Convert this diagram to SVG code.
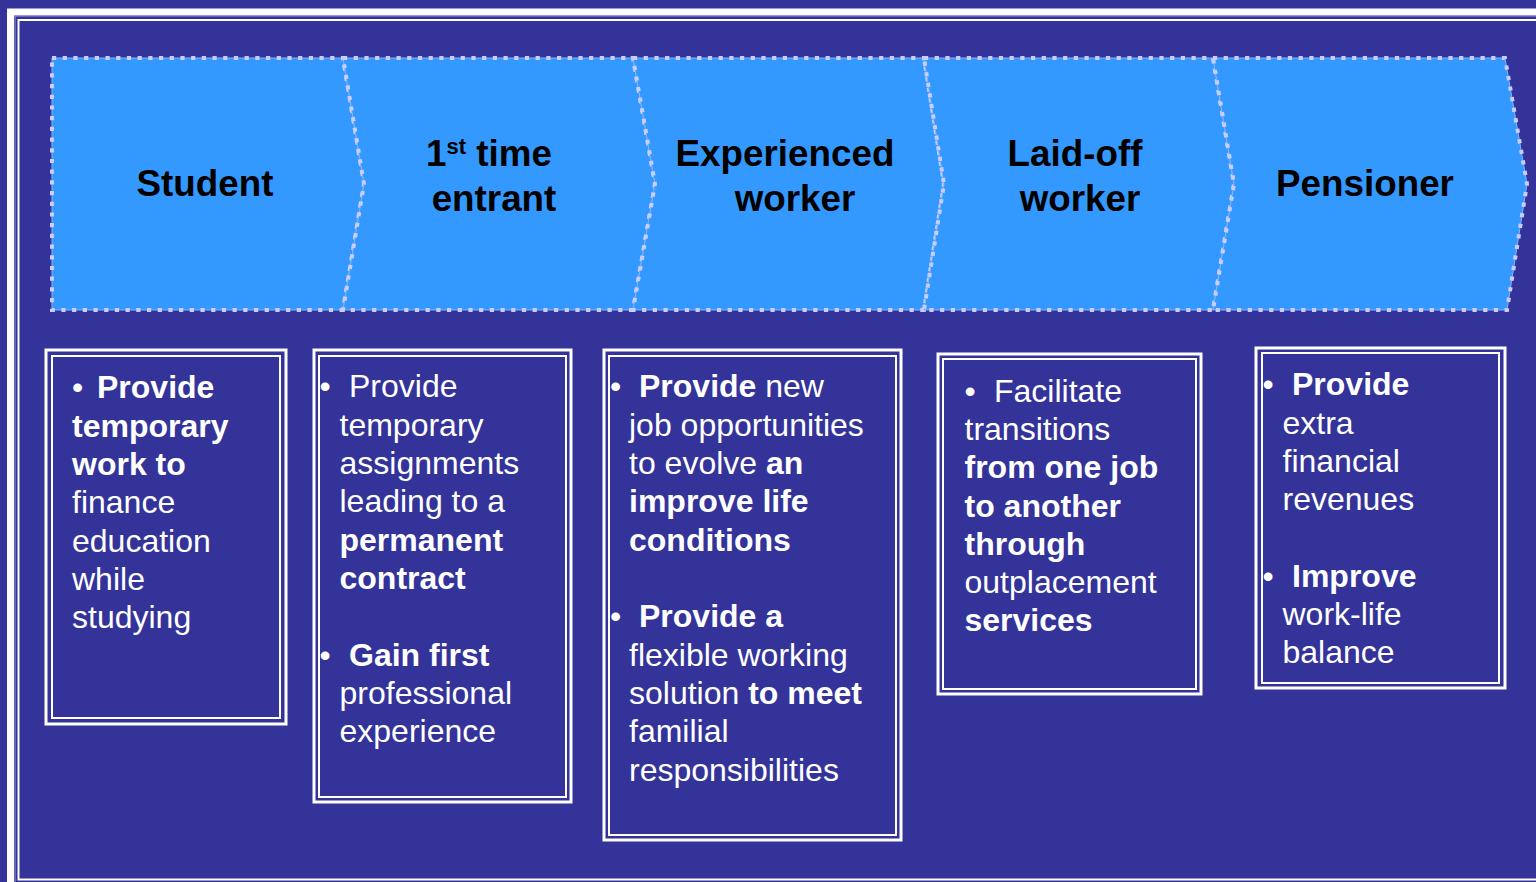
<svg xmlns="http://www.w3.org/2000/svg" width="1536" height="882" viewBox="0 0 1536 882">
<style>
.bg{fill:#343399}
.seg{fill:#3399ff;stroke:#7fb6ff;stroke-width:1}
.dots{fill:none;stroke:#ccccff;stroke-width:4;stroke-dasharray:4.2 6.5;stroke-linejoin:miter}
.ob{fill:none;stroke:#ffffff;stroke-width:3}
.ib{fill:none;stroke:#ffffff;stroke-width:2}
.h{font-family:"Liberation Sans",Arial,sans-serif;font-weight:bold;font-size:36.8px;fill:#000000;text-anchor:middle}
.t{font-family:"Liberation Sans",Arial,sans-serif;font-size:32px;fill:#ffffff}
.b{font-weight:bold}
</style>
<rect class="bg" x="0" y="0" width="1536" height="882"/>
<g id="frame">
<rect x="10.5" y="12" width="1560" height="900" fill="none" stroke="#ffffff" stroke-width="7"/>
<rect x="15" y="16" width="1560" height="900" fill="none" stroke="#9a99dd" stroke-width="1"/>
<rect x="18.5" y="20" width="1560" height="859.5" fill="none" stroke="#ffffff" stroke-width="2"/>
</g>
<g id="band">
<g id="stage-student">
<polygon class="seg" points="52,58 343,58 364,184 343,310 52,310"/>
<polygon class="dots" points="52,58 343,58 364,184 343,310 52,310"/>
<text class="h" x="205" y="196">Student</text>
</g>
<g id="stage-first">
<polygon class="seg" points="343,58 633,58 655,184 633,310 343,310 364,184"/>
<polygon class="dots" points="343,58 633,58 655,184 633,310 343,310 364,184"/>
<text class="h" x="426" y="166" style="text-anchor:start">1<tspan font-size="22" dy="-12">st</tspan><tspan dy="12"> time</tspan></text>
<text class="h" x="494" y="211">entrant</text>
</g>
<g id="stage-experienced">
<polygon class="seg" points="633,58 924,58 944,184 924,310 633,310 655,184"/>
<polygon class="dots" points="633,58 924,58 944,184 924,310 633,310 655,184"/>
<text class="h" x="785" y="166">Experienced</text>
<text class="h" x="795" y="211">worker</text>
</g>
<g id="stage-laidoff">
<polygon class="seg" points="924,58 1213,58 1234,184 1213,310 924,310 944,184"/>
<polygon class="dots" points="924,58 1213,58 1234,184 1213,310 924,310 944,184"/>
<text class="h" x="1075" y="166">Laid-off</text>
<text class="h" x="1080" y="211">worker</text>
</g>
<g id="stage-pensioner">
<polygon class="seg" points="1213,58 1505,58 1527,184 1507,310 1213,310 1234,184"/>
<polygon class="dots" points="1213,58 1505,58 1527,184 1507,310 1213,310 1234,184"/>
<text class="h" x="1365" y="196">Pensioner</text>
</g>
</g>
<g id="box-student">
<rect class="ob" x="46" y="350" width="240" height="374"/>
<rect class="ib" x="52" y="356" width="228" height="362"/>
<text class="t" x="72" y="398">•<tspan class="b" x="97">Provide</tspan></text>
<text class="t b" x="72" y="437">temporary</text>
<text class="t b" x="72" y="475">work to</text>
<text class="t" x="72" y="513">finance</text>
<text class="t" x="72" y="552">education</text>
<text class="t" x="72" y="590">while</text>
<text class="t" x="72" y="628">studying</text>
</g>
<g id="box-first">
<rect class="ob" x="314" y="350" width="257" height="452"/>
<rect class="ib" x="319" y="356" width="247" height="441"/>
<text class="t" x="319.5" y="397">•<tspan x="349">Provide</tspan></text>
<text class="t" x="339.5" y="436">temporary</text>
<text class="t" x="339.5" y="474">assignments</text>
<text class="t" x="339.5" y="512">leading to a</text>
<text class="t b" x="339.5" y="551">permanent</text>
<text class="t b" x="339.5" y="589">contract</text>
<text class="t" x="319.5" y="666">•<tspan class="b" x="349">Gain first</tspan></text>
<text class="t" x="339.5" y="704">professional</text>
<text class="t" x="339.5" y="742">experience</text>
</g>
<g id="box-experienced">
<rect class="ob" x="604" y="350" width="297" height="490"/>
<rect class="ib" x="609" y="356" width="287" height="479"/>
<text class="t" x="610" y="397">•<tspan class="b" x="639">Provide</tspan> new</text>
<text class="t" x="629" y="436">job opportunities</text>
<text class="t" x="629" y="474">to evolve <tspan class="b">an</tspan></text>
<text class="t b" x="629" y="512">improve life</text>
<text class="t b" x="629" y="551">conditions</text>
<text class="t" x="610" y="627">•<tspan class="b" x="639">Provide a</tspan></text>
<text class="t" x="629" y="666">flexible working</text>
<text class="t" x="629" y="704">solution <tspan class="b">to meet</tspan></text>
<text class="t" x="629" y="742">familial</text>
<text class="t" x="629" y="781">responsibilities</text>
</g>
<g id="box-laidoff">
<rect class="ob" x="938" y="354" width="263" height="340"/>
<rect class="ib" x="943" y="359" width="253" height="330"/>
<text class="t" x="964.5" y="402">•<tspan x="994">Facilitate</tspan></text>
<text class="t" x="964.5" y="440">transitions</text>
<text class="t b" x="964.5" y="478">from one job</text>
<text class="t b" x="964.5" y="517">to another</text>
<text class="t b" x="964.5" y="555">through</text>
<text class="t" x="964.5" y="593">outplacement</text>
<text class="t b" x="964.5" y="631">services</text>
</g>
<g id="box-pensioner">
<rect class="ob" x="1256" y="348" width="249" height="340"/>
<rect class="ib" x="1262" y="353" width="237" height="330"/>
<text class="t" x="1262.5" y="395">•<tspan class="b" x="1292">Provide</tspan></text>
<text class="t" x="1282.5" y="434">extra</text>
<text class="t" x="1282.5" y="472">financial</text>
<text class="t" x="1282.5" y="510">revenues</text>
<text class="t" x="1262.5" y="587">•<tspan class="b" x="1292">Improve</tspan></text>
<text class="t" x="1282.5" y="625">work-life</text>
<text class="t" x="1282.5" y="663">balance</text>
</g>
</svg>
